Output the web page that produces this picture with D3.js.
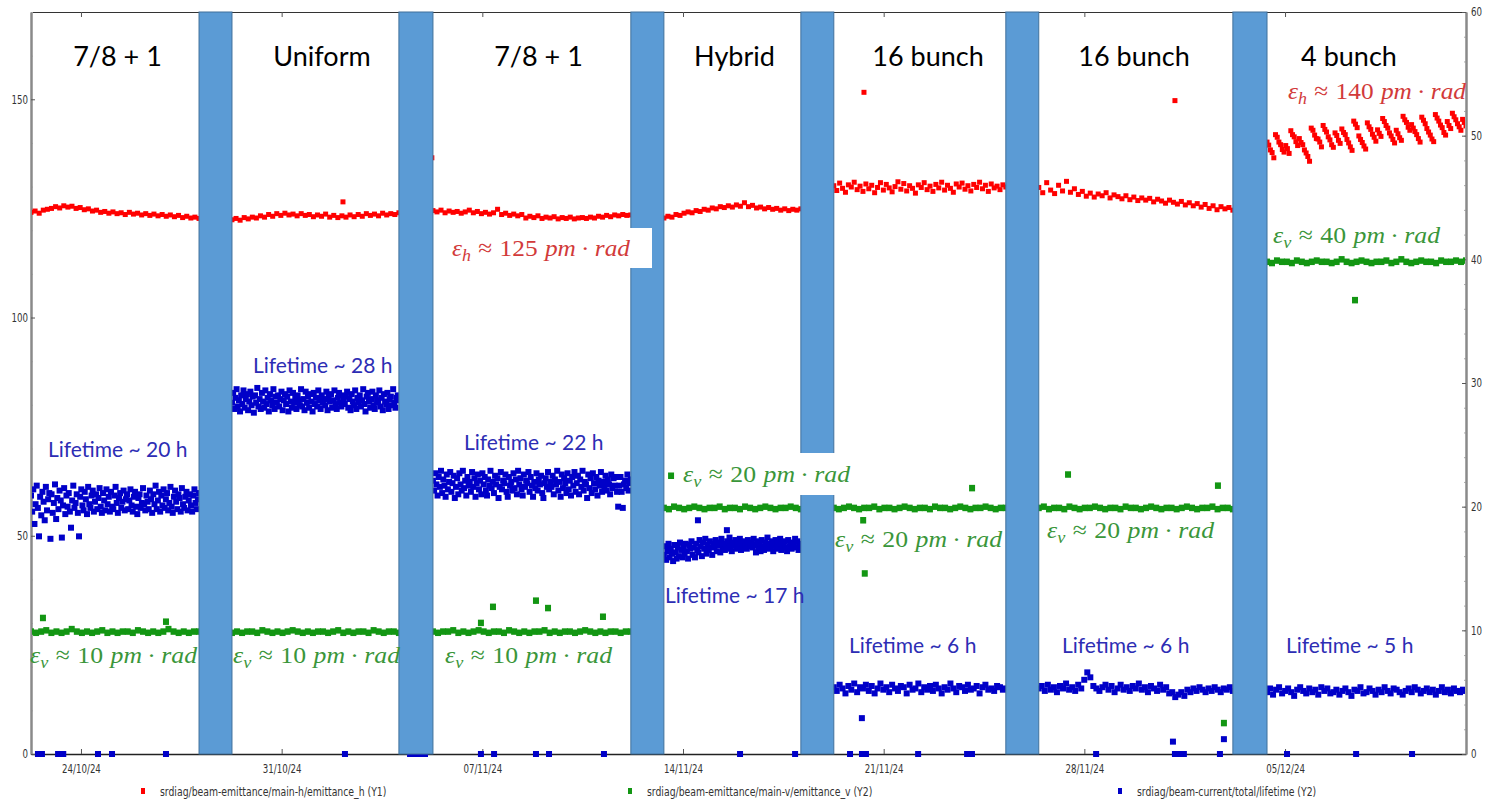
<!DOCTYPE html>
<html><head><meta charset="utf-8">
<script src="https://cdn.jsdelivr.net/npm/d3@7"></script>
<style>body{margin:0;background:#fff}svg{display:block}</style>
</head><body>
<svg id="chart" width="1485" height="801"></svg>
<script>
// ---------------- DATA ----------------
const xDomain = ["2024-10-22T06:10", "2024-12-11T07:30"];
const tickDates = ["2024-10-24T00:00","2024-10-31T00:00","2024-11-07T00:00","2024-11-14T00:00","2024-11-21T00:00","2024-11-28T00:00","2024-12-05T00:00"];
const leftDomain = [0, 170];
const leftTicks = [0, 50, 100, 150];
const rightDomain = [0, 60];
const rightTicks = [0, 10, 20, 30, 40, 50, 60];

// filling-mode periods (data visible between the shaded gaps)
const modeNames = ["7/8 + 1", "Uniform", "7/8 + 1", "Hybrid", "16 bunch", "16 bunch", "4 bunch"];
const segmentBounds = [
  ["2024-10-22T06:10", "2024-10-28T02:50"],
  ["2024-10-29T06:25", "2024-11-04T02:10"],
  ["2024-11-05T06:40", "2024-11-12T04:20"],
  ["2024-11-13T08:00", "2024-11-18T02:40"],
  ["2024-11-19T06:15", "2024-11-25T06:15"],
  ["2024-11-26T09:50", "2024-12-03T04:20"],
  ["2024-12-04T08:55", "2024-12-11T07:30"]
];
// shaded gaps between periods
const gapPeriods = [
  ["2024-10-28T02:50", "2024-10-29T06:25"],
  ["2024-11-04T02:10", "2024-11-05T06:40"],
  ["2024-11-12T04:20", "2024-11-13T08:00"],
  ["2024-11-18T02:40", "2024-11-19T06:15"],
  ["2024-11-25T06:15", "2024-11-26T09:50"],
  ["2024-12-03T04:20", "2024-12-04T08:55"]
];

// horizontal emittance (Y1, pm.rad), one list per period
const emitH = [
  [124.1,124.4,123.9,124.6,124.8,125.0,125.4,125.1,125.6,125.3,125.5,125.0,125.2,124.7,124.9,124.4,124.6,124.1,124.3,123.9,124.2,123.8,124.0,123.6,124.1,123.7,123.9,123.5,123.8,123.4,123.7,123.3,123.6,123.2,123.5,123.1,123.4,122.9,123.2,122.8,123.0,122.7],
  [122.4,122.7,122.3,122.9,122.6,123.0,122.8,123.3,123.0,123.6,123.2,123.8,123.4,123.9,123.5,123.7,123.3,123.8,123.4,123.6,123.1,123.5,123.2,123.7,123.0,123.4,122.9,123.3,123.0,123.5,123.1,123.6,123.2,123.8,123.4,123.7,123.3,123.9,123.5,123.8,123.6,124.0],
  [124.5,124.2,124.6,124.0,124.4,124.1,124.3,123.9,124.2,124.6,124.0,124.3,123.8,124.1,123.7,124.0,124.8,123.6,123.9,123.4,123.7,123.3,123.6,122.8,123.2,122.9,123.3,122.7,123.0,122.8,123.1,122.6,122.9,122.7,123.0,122.6,122.8,122.9,122.7,123.0,122.8,123.2,123.0,123.4,123.1,123.5,123.3,123.6,123.4,123.5],
  [122.8,123.2,123.0,123.6,123.4,123.9,124.2,124.0,124.5,124.3,124.8,124.6,125.1,124.9,125.4,125.2,125.6,125.3,125.8,125.5,126.3,125.4,125.7,125.1,125.3,124.9,125.2,124.8,125.0,124.6,124.9,124.5,124.8,124.6,124.9],
  [130.2,129.1,130.8,129.6,128.7,130.4,129.9,131.0,129.3,130.1,128.9,130.6,129.5,130.3,128.6,129.8,130.9,129.2,130.5,129.7,128.8,130.0,131.1,129.4,130.7,129.0,130.2,129.6,128.5,130.4,129.8,130.9,129.3,130.1,128.9,130.5,129.7,131.0,129.2,130.3,129.6,128.7,130.6,129.9,130.8,129.4,130.2,129.0,130.5,129.8,131.0,129.5,130.3,128.9,130.6,129.7,130.1,129.3,130.4,129.9],
  [129.8,128.6,130.9,129.2,128.4,130.3,129.0,131.2,128.7,129.5,128.2,128.9,127.8,128.5,127.6,128.3,127.9,128.6,127.4,128.1,127.7,127.2,127.9,127.0,127.6,126.8,127.4,126.9,127.3,126.5,127.1,126.7,126.2,126.9,126.4,126.0,126.6,125.8,126.3,125.6,126.1,125.3,125.9,125.0,125.6,124.7,125.4,124.9,125.2,124.6],
  [140.2,139.5,138.4,137.8,136.6, 141.9,141.3,140.2,139.6,138.5,137.9, 139.4,138.7,137.6, 142.8,141.9,141.4,140.3,139.4, 141.0,140.1,139.6,138.4,137.7,136.9,135.8, 143.4,142.9,141.8,141.0, 140.9,140.2,139.1, 144.0,143.1,142.5,141.4,140.7,139.6,139.0, 142.3,141.7,140.6,139.9, 143.2,142.4,141.9,140.8,140.0,139.1,138.3, 145.0,144.3,143.5, 141.6,140.8,140.1,139.3,138.6, 144.6,143.7,143.1,142.0,141.3,140.4, 143.0,142.2,141.5, 145.6,144.9,144.0,143.4,142.3,141.6,140.8,140.0, 142.9,142.1,141.2,140.6, 146.1,145.3,144.7,143.6,142.9, 144.2,143.4,142.6,141.9,141.0,140.2, 145.9,145.2,144.4, 143.3,142.5,141.8,140.9,140.3, 146.5,145.7,145.0,144.1,143.5,142.4,141.8, 144.9,144.0,143.3, 146.8,146.0,145.3,144.4,143.7,142.9, 145.4,144.7,143.9]
];
// vertical emittance (Y2, pm.rad)
const emitV = [
  [9.9,9.8,9.9,10.0,9.8,9.9,9.8,9.9,10.1,9.9,9.8,9.9,9.8,9.9,10.0,9.8,9.9,9.8,9.9,9.9,9.8,10.0,9.9,9.8,9.9,9.8,9.9,10.1,9.9,9.8,9.9,9.8,9.9,9.9],
  [9.8,9.9,9.8,9.9,9.9,9.8,10.0,9.9,9.8,9.9,9.8,9.9,10.0,9.9,9.8,9.9,9.8,9.9,9.9,9.8,9.9,10.0,9.8,9.9,9.8,9.9,9.9,9.8,10.0,9.9,9.8,9.9,9.9,9.8],
  [9.9,9.8,9.9,9.9,10.0,9.8,9.9,9.8,9.9,10.0,9.9,9.8,9.9,9.9,9.8,10.0,9.9,9.8,9.9,9.8,9.9,9.9,10.0,9.8,9.9,9.8,9.9,9.9,9.8,9.9,10.0,9.9,9.8,9.9,9.8,9.9,9.9,9.8,9.9,9.9],
  [19.9,19.8,20.0,19.9,19.8,19.9,20.0,19.9,19.8,19.9,19.9,20.0,19.8,19.9,19.9,19.8,20.0,19.9,19.8,19.9,20.0,19.9,19.8,19.9,19.9,20.0,19.9,19.8],
  [19.9,19.8,19.9,20.0,19.9,19.8,19.9,19.9,20.0,19.8,19.9,19.9,19.8,19.9,20.0,19.9,19.8,19.9,19.9,19.8,20.0,19.9,19.9,19.8,19.9,20.0,19.9,19.8,19.9,19.9,20.0,19.9,19.8,19.9,19.9],
  [19.9,20.0,19.8,19.9,19.9,19.8,20.0,19.9,19.8,19.9,19.9,20.0,19.9,19.8,19.9,19.9,19.8,20.0,19.9,19.9,19.8,19.9,20.0,19.9,19.8,19.9,19.9,19.8,19.9,20.0,19.9,19.8,19.9,19.9,20.0,19.8,19.9,19.9,19.8],
  [39.8,39.7,39.9,39.8,39.8,39.7,39.9,39.8,39.7,39.8,39.9,39.8,39.8,39.7,39.8,40.0,39.8,39.7,39.8,39.9,39.8,39.7,39.8,39.8,39.9,39.7,39.8,40.0,39.8,39.7,39.8,39.9,39.8,39.8,39.7,39.9,39.8,39.8,39.9,39.8,39.9]
];
// beam lifetime (Y2, hours)
const lifetime = [
  [20.9,19.6,21.4,18.6,20.2,21.7,19.9,17.6,20.8,19.3,21.2,20.4,18.9,21.6,19.7,20.6,21.1,17.4,21.0,19.5,20.3,21.8,19.0,20.7,19.8,21.3,20.5,17.5,20.1,21.5,19.4,20.9,20.0,21.1,19.6,18.3,20.5,21.7,19.9,20.3,21.0,19.5,17.6,20.8,21.4,20.1,19.7,21.2,20.6,19.4,21.6,20.2,19.9,20.9,21.3,19.6,20.4,21.0,19.8,20.7,21.5,20.0,19.5,21.1,20.5,19.7,21.4,20.2,20.8,19.6,21.2,20.0,19.8,20.9,21.6,20.3,19.5,20.7,21.1,19.9,20.4,21.3,19.7,20.6,21.0,19.8,20.5,21.4,20.1,19.6,20.8,21.2,20.0,19.4,20.7,21.0,19.9,20.3,21.5,20.2,19.7,20.9,20.4,19.8,21.3,20.6,19.5,21.0,20.2,21.7,19.8,20.5,21.2,19.6,20.9,20.1,21.4,19.9,20.6,21.1,19.7,20.3,21.6,20.0,19.5,20.8,21.3,20.4,19.8,21.0,20.7,19.6,21.5,20.2,19.9,20.8,21.2,19.7,20.5,21.0,20.1,19.6,20.9,21.4,20.3,19.8,20.6,21.1],
  [28.4,29.2,27.9,28.8,29.5,28.1,28.6,27.7,29.0,28.3,29.4,28.0,28.7,29.1,27.8,28.5,29.3,28.2,28.9,27.6,29.0,28.4,29.6,28.1,28.7,27.9,29.2,28.5,28.0,29.4,28.3,28.8,27.7,29.1,28.6,28.2,29.5,27.9,28.9,28.4,29.0,28.1,28.7,29.3,27.8,28.6,29.1,28.3,28.9,27.7,29.4,28.5,28.0,29.2,28.4,28.8,27.9,29.0,28.6,28.2,29.5,28.1,28.7,27.8,29.3,28.4,28.9,28.0,29.1,28.5,27.7,29.2,28.3,28.8,28.1,29.4,28.6,27.9,29.0,28.4,28.7,28.2,29.3,27.8,28.9,28.5,29.1,28.0,28.6,29.4,28.3,27.9,28.8,29.2,28.4,28.1,29.0,28.6,28.3,28.9,29.3,28.0,28.7,27.8,29.1,28.5,28.2,29.4,27.9,28.8,28.4,29.0,28.1,28.6,29.5,28.3,27.7,28.9,29.2,28.5,28.0,28.7,29.3,28.2,27.9,29.0,28.6,28.4,29.4,28.1,28.8,27.8,29.1,28.5,28.3,29.2,27.9,28.7,28.9,28.2,29.5,28.4,28.0,28.8,29.0,28.6],
  [22.1,21.3,22.7,21.8,20.9,22.4,21.6,22.9,21.1,22.2,21.7,20.8,22.6,21.4,22.0,22.8,21.2,21.9,22.5,20.7,21.6,22.3,21.0,22.7,21.8,21.3,22.9,21.5,22.1,20.9,22.4,21.7,22.0,21.2,22.8,21.6,22.3,20.8,21.9,22.6,21.4,22.1,21.0,22.7,21.8,22.4,21.3,20.9,22.2,21.7,22.9,21.5,22.0,21.1,22.5,21.8,22.3,20.7,21.6,22.8,21.4,22.1,21.9,22.6,21.2,20.8,22.4,21.7,22.0,21.3,22.7,21.5,22.2,21.0,22.9,21.8,22.3,21.4,20.9,22.6,21.6,22.1,21.9,22.8,21.2,22.4,21.7,20.8,22.0,21.5,22.7,21.3,22.2,21.8,22.5,21.1,20.7,21.9,22.3,21.6,22.8,21.4,22.0,21.6,22.5,21.0,22.2,21.8,22.9,21.3,22.0,20.8,22.6,21.5,22.3,21.9,21.1,22.7,21.4,22.1,20.9,22.4,21.7,22.8,21.2,21.9,22.5,21.0,22.2,21.6,22.9,21.3,22.0,21.8,20.7,22.6,21.5,22.3,21.1,22.7,21.9,21.4,22.4,20.9,22.1,21.7,22.8,21.2,22.0,21.6,22.5,21.3,22.2,21.8,21.0,22.6,21.5,22.3,21.7,22.4,21.2,20.0,21.7,22.4,21.2,19.9,21.8,22.1,21.5,22.6,21.3,21.9,22.2],
  [16.1,16.8,15.7,16.4,17.0,15.9,16.6,16.2,15.6,16.9,16.3,15.8,16.7,16.0,17.1,16.5,15.9,16.8,16.2,17.0,16.4,15.8,16.9,16.6,17.2,16.1,16.7,15.9,17.0,16.5,16.3,17.3,16.8,16.0,17.1,16.6,17.4,16.2,16.9,16.5,17.2,16.7,16.1,17.0,16.8,17.3,16.4,16.9,17.1,16.3,17.4,16.7,17.0,16.5,16.9,17.2,16.6,17.5,16.8,16.4,17.1,16.9,17.3,16.6,17.0,16.8,17.4,16.5,17.1,16.7,17.2,16.9,16.6,17.3,17.0,16.8,17.1,16.7,17.4,16.9,16.3,17.2,16.6,17.0,16.4,17.3,16.8,16.5,17.1,16.9,17.5,16.6,17.0,16.7,17.2,16.4,16.9,17.3,16.6,17.1,16.8,17.4,16.5,17.0,16.9,17.2,16.7,16.4,17.3,16.8,17.0,16.6,17.1,16.9,17.4,16.7,17.2,16.5,17.0,16.8],
  [5.4,5.1,5.6,5.3,4.9,5.5,5.2,5.7,5.0,5.4,5.3,5.6,5.1,5.5,4.9,5.3,5.7,5.2,5.4,5.0,5.6,5.3,5.1,5.5,5.4,4.9,5.6,5.2,5.3,5.7,5.0,5.4,5.2,5.5,5.1,5.6,5.3,4.9,5.4,5.2,5.7,5.3,5.0,5.5,5.4,5.1,5.6,5.2,5.3,5.5,4.9,5.4,5.6,5.2,5.3,5.1,5.5,5.4,5.2,5.3],
  [5.3,5.5,5.1,5.6,5.2,5.4,5.0,5.5,5.3,5.7,5.2,5.4,5.1,5.6,5.3,6.0,6.6,6.2,5.5,5.3,5.1,5.4,5.6,5.2,5.5,5.0,5.3,5.6,5.2,5.4,5.1,5.5,5.3,5.7,5.2,5.4,5.0,5.5,5.3,5.1,5.6,5.2,5.4,4.9,5.0,4.6,4.8,5.0,4.7,5.2,5.0,5.3,5.1,5.4,5.2,5.0,5.3,5.1,5.4,5.2,5.0,5.3,5.2,5.4,5.1],
  [5.0,5.3,4.8,5.2,5.4,4.9,5.1,5.3,5.0,4.7,5.2,5.4,5.1,4.9,5.3,5.0,5.2,4.8,5.4,5.1,5.3,4.9,5.0,5.2,4.8,5.1,5.3,5.0,4.7,5.2,5.1,5.4,4.9,5.0,5.3,5.1,4.8,5.2,5.0,5.4,5.1,4.9,5.3,5.2,5.0,4.8,5.1,5.3,5.0,5.4,5.2,4.9,5.1,5.3,5.0,5.2,4.8,5.1,5.4,5.0,5.2,4.9,5.3,5.1,5.0,5.2,5.1]
];
// isolated readings [time, value]
const emitHOutliers = [["2024-11-02T03:20",126.5],["2024-11-05T05:45",136.6],["2024-11-20T07:30",151.6],["2024-12-01T03:50",149.7]];
const emitVOutliers = [["2024-10-22T16:10",11.0],["2024-10-26T23:10",10.7],["2024-11-06T22:50",10.6],["2024-11-07T08:55",11.9],["2024-11-08T20:55",12.4],["2024-11-09T07:00",11.8],["2024-11-11T05:00",11.1],["2024-11-13T14:00",22.5],["2024-11-20T06:50",18.9],["2024-11-20T08:10",14.6],["2024-11-24T02:00",21.5],["2024-11-27T10:20",22.6],["2024-12-02T15:50",21.7],["2024-12-02T20:50",2.5],["2024-12-07T10:35",36.7]];
const lifetimeOutliers = [["2024-11-14T12:30",18.9],["2024-11-15T12:45",18.1],["2024-11-20T05:45",2.9],["2024-12-01T02:10",1.0],["2024-12-02T20:50",1.2]];
const lifetimeZeros = ["2024-10-22T12:00","2024-10-22T15:20","2024-10-23T04:50","2024-10-23T09:10","2024-10-24T14:15","2024-10-25T02:00","2024-10-26T23:10","2024-11-02T05:00","2024-11-04T11:30","2024-11-04T15:40","2024-11-04T19:50","2024-11-05T00:00","2024-11-06T22:50","2024-11-07T09:50","2024-11-08T20:55","2024-11-09T07:50","2024-11-11T05:50","2024-11-15T23:45","2024-11-17T21:50","2024-11-19T19:50","2024-11-20T05:50","2024-11-20T09:10","2024-11-22T04:50","2024-11-23T21:50","2024-11-24T01:55","2024-11-28T09:50","2024-12-01T03:50","2024-12-01T07:10","2024-12-01T11:20","2024-12-02T17:30","2024-12-05T01:40","2024-12-07T11:30","2024-12-09T10:20"];
const legendLabels = ["srdiag/beam-emittance/main-h/emittance_h (Y1)", "srdiag/beam-emittance/main-v/emittance_v (Y2)", "srdiag/beam-current/total/lifetime (Y2)"];
const lifetimeLabels = ["Lifetime ~ 20 h","Lifetime ~ 28 h","Lifetime ~ 22 h","Lifetime ~ 17 h","Lifetime ~ 6 h","Lifetime ~ 6 h","Lifetime ~ 5 h"];
const emitVLabels = ["10","10","10","20","20","20","40"];
const emitHLabels = ["125","140"];

// ---------------- DRAWING ----------------
const W = 1485, H = 801;
const L = 31, R = 1466, T = 12, B = 754;
const COL = {red:"#ff0000", green:"#139613", blue:"#0000c8", gap:"#5b9bd5", gapStroke:"#41719c",
             tRed:"#d23a3a", tGreen:"#3a963a", tBlue:"#2d2db4"};
const narrow = "'Liberation Sans Narrow','DejaVu Sans Condensed','Arial Narrow',sans-serif";

const parse = d3.utcParse("%Y-%m-%dT%H:%M");
const x = d3.scaleUtc().domain(xDomain.map(parse)).range([L, R]);
const yL = d3.scaleLinear().domain(leftDomain).range([B, T]);
const yR = d3.scaleLinear().domain(rightDomain).range([B, T]);

const svg = d3.select("#chart");
svg.append("rect").attr("width", W).attr("height", H).attr("fill", "#fff");
svg.append("defs").append("clipPath").attr("id", "clip")
  .append("rect").attr("x", L + 1).attr("y", T).attr("width", R - L - 2).attr("height", B - T + 4);

function segPoints(segs) {
  const pts = [];
  segs.forEach((vals, i) => {
    const t0 = parse(segmentBounds[i][0]).getTime(), t1 = parse(segmentBounds[i][1]).getTime();
    vals.forEach((v, j) => pts.push({t: new Date(t0 + (t1 - t0) * j / (vals.length - 1)), v}));
  });
  return pts;
}
const pairPoints = arr => arr.map(([t, v]) => ({t: parse(t), v}));

// condensed look for the small labels
function squeeze(sel, k) {
  sel.each(function () {
    const w = this.getComputedTextLength();
    if (w > 0) d3.select(this).attr("textLength", w * k).attr("lengthAdjust", "spacingAndGlyphs");
  });
}
// axes
function styleAxis(g, color, width) {
  g.select(".domain").attr("stroke", color).attr("stroke-width", width);
  g.selectAll(".tick line").attr("stroke", "#555");
  g.selectAll(".tick text").attr("fill", "#333").style("font-family", narrow).style("font-size", "12px");
  squeeze(g.selectAll(".tick text"), 0.8);
}
svg.append("g").attr("transform", `translate(0,${B})`)
  .call(d3.axisBottom(x).tickValues(tickDates.map(parse)).tickFormat(d3.utcFormat("%d/%m/%y")).tickSize(-5).tickSizeOuter(0).tickPadding(10))
  .call(g => styleAxis(g, "#222", 1.5));
svg.append("g").attr("transform", `translate(0,${T})`)
  .call(d3.axisTop(x).tickValues(tickDates.map(parse)).tickFormat("").tickSize(-5).tickSizeOuter(0))
  .call(g => styleAxis(g, "#333", 1));
svg.append("g").attr("transform", `translate(${L},0)`)
  .call(d3.axisLeft(yL).tickValues(d3.range(0, 171, 10)).tickFormat("").tickSize(-2).tickSizeOuter(0))
  .call(g => styleAxis(g, "#8a8a8a", 2)).call(g => g.selectAll(".tick line").attr("stroke", "#aaa"));
svg.append("g").attr("transform", `translate(${L},0)`)
  .call(d3.axisLeft(yL).tickValues(leftTicks).tickSize(-4).tickSizeOuter(0).tickPadding(3))
  .call(g => styleAxis(g, "#8a8a8a", 2));
svg.append("g").attr("transform", `translate(${R},0)`)
  .call(d3.axisRight(yR).tickValues(d3.range(0, 61, 2)).tickFormat("").tickSize(-2).tickSizeOuter(0))
  .call(g => styleAxis(g, "#8a8a8a", 2)).call(g => g.selectAll(".tick line").attr("stroke", "#aaa"));
svg.append("g").attr("transform", `translate(${R},0)`)
  .call(d3.axisRight(yR).tickValues(rightTicks).tickSize(-4).tickSizeOuter(0).tickPadding(5))
  .call(g => styleAxis(g, "#8a8a8a", 2));

// data
const plot = svg.append("g").attr("clip-path", "url(#clip)");
function drawPoints(pts, y, color, w, h) {
  plot.append("g").selectAll("rect").data(pts).join("rect")
    .attr("x", d => x(d.t) - w / 2).attr("y", d => y(d.v) - h / 2)
    .attr("width", w).attr("height", h).attr("fill", color);
}
drawPoints(segPoints(emitH).concat(pairPoints(emitHOutliers)), yL, COL.red, 5, 5);
drawPoints(segPoints(emitV).concat(pairPoints(emitVOutliers)), yR, COL.green, 6, 6.5);
drawPoints(segPoints(lifetime).concat(pairPoints(lifetimeOutliers))
  .concat(lifetimeZeros.map(t => ({t: parse(t), v: 0}))), yR, COL.blue, 6, 6);

// shaded gaps
svg.append("g").selectAll("rect").data(gapPeriods).join("rect")
  .attr("x", d => x(parse(d[0]))).attr("y", T)
  .attr("width", d => x(parse(d[1])) - x(parse(d[0]))).attr("height", B - T)
  .attr("fill", COL.gap).attr("stroke", COL.gapStroke).attr("stroke-width", 1);

// annotations
const ann = svg.append("g");
const titlePos = [117.5, 322, 538.5, 734.5, 928, 1134, 1349];
ann.selectAll("text.title").data(modeNames).join("text").attr("class", "title")
  .attr("x", (d, i) => titlePos[i]).attr("y", 66).attr("text-anchor", "middle")
  .style("font-family", "Lato, 'Open Sans', sans-serif").style("font-size", "27px").attr("fill", "#000")
  .text(d => d);

const lifePos = [[48, 457], [253, 373], [464, 450], [665, 603], [849, 653], [1062, 653], [1286, 653]];
ann.selectAll("text.life").data(lifetimeLabels).join("text").attr("class", "life")
  .attr("x", (d, i) => lifePos[i][0]).attr("y", (d, i) => lifePos[i][1])
  .style("font-family", "Lato, 'Open Sans', sans-serif").style("font-size", "21px").attr("fill", COL.tBlue)
  .text(d => d);

function mathLabel(sym, sub, num, px, py, color, width, box) {
  const g = ann.append("g");
  const t = g.append("text").attr("x", px).attr("y", py).attr("fill", color)
    .style("font-family", "'Liberation Serif','DejaVu Serif',serif").style("font-size", "24px");
  t.append("tspan").style("font-style", "italic").text(sym);
  t.append("tspan").style("font-style", "italic").style("font-size", "17px").attr("dy", 5).text(sub);
  t.append("tspan").attr("dy", -5).attr("dx", 7).text("≈");
  t.append("tspan").attr("dx", 7).text(num);
  t.append("tspan").attr("dx", 7).style("font-style", "italic").text("pm");
  t.append("tspan").attr("dx", 5).text("·");
  t.append("tspan").attr("dx", 5).style("font-style", "italic").text("rad");
  t.attr("textLength", width).attr("lengthAdjust", "spacingAndGlyphs");
  if (box) {
    g.insert("rect", "text").attr("x", px - box[0]).attr("y", py - box[2])
      .attr("width", width + box[0] + box[1]).attr("height", box[2] + box[3]).attr("fill", "#fff");
  }
}
const vPos = [[30, 663], [233, 663], [445, 663], [683, 482], [835, 547], [1047, 538], [1273, 243]];
emitVLabels.forEach((n, i) => mathLabel("ε", "v", n, vPos[i][0], vPos[i][1], COL.tGreen, 167,
  i === 3 ? [4, 4, 29, 13] : null));
const hPos = [[452, 256], [1288, 99]];
emitHLabels.forEach((n, i) => mathLabel("ε", "h", n, hPos[i][0], hPos[i][1], COL.tRed, 178,
  i === 0 ? [12, 22, 28, 12] : null));

// legend
const legX = [143, 630, 1120];
const colors = [COL.red, COL.green, COL.blue];
const leg = svg.append("g");
leg.selectAll("rect").data(legendLabels).join("rect")
  .attr("x", (d, i) => legX[i] - 2).attr("y", 788).attr("width", 4).attr("height", 6)
  .attr("fill", (d, i) => colors[i]);
leg.selectAll("text").data(legendLabels).join("text")
  .attr("x", (d, i) => legX[i] + 17).attr("y", 796)
  .style("font-family", narrow).style("font-size", "12px").attr("fill", "#333")
  .text(d => d).call(s => squeeze(s, 0.86));
</script>
</body></html>
